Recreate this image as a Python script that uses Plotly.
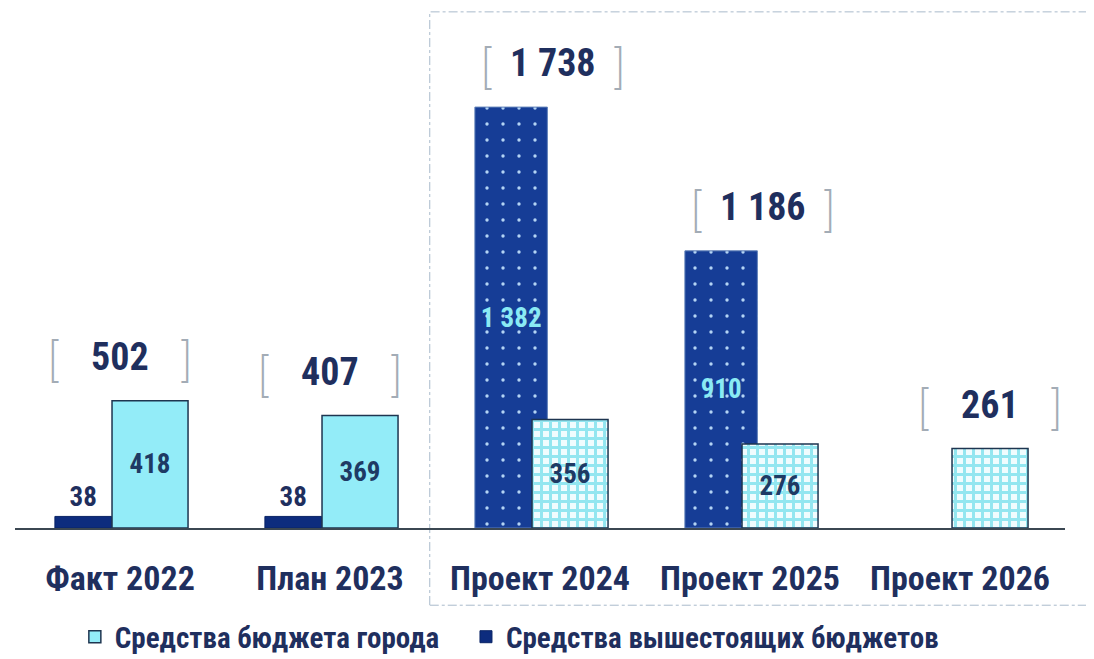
import plotly.graph_objects as go

# ---- data ----
categories = ["Факт 2022", "План 2023", "Проект 2024", "Проект 2025", "Проект 2026"]
city_budget = [418, 369, 356, 276, 261]          # Средства бюджета города
higher_budgets = [38, 38, 1382, 910, None]       # Средства вышестоящих бюджетов
totals = [502, 407, 1738, 1186, 261]
is_project = [False, False, True, True, True]

series_names = ["Средства бюджета города", "Средства вышестоящих бюджетов"]

# ---- styles ----
FONT = "Roboto Condensed, Liberation Sans Narrow, Roboto, sans-serif"
BRACKET_FONT = "Inter, Lato, DejaVu Sans, sans-serif"
NAVY_TEXT = "#1F2F5E"
DARK = "#0D2C7E"
DARK_PAT = "#163D96"
DARK_DOT = "#B4D4F4"
LIGHT = "#93ECF8"
LIGHT_PAT_BG = "#F0FCFE"
LIGHT_PAT_FG = "#93E6F0"
LIGHT_TEXT = "#1E3A64"


def fmt(v):
    return "" if v is None else f"{v:,}".replace(",", " ")


n = len(categories)
xs = list(range(n))

# bar geometry (in category units)
light_width, light_offset = 0.362, -0.038
dark_offset = -0.31


def dark_width(p):
    return 0.345 if p else 0.27


fig = go.Figure()

# dark series: solid (fact/plan) and dotted (projects)
for proj in (False, True):
    idx = [i for i in range(n) if is_project[i] == proj and higher_budgets[i] is not None]
    vals = [higher_budgets[i] for i in idx]
    tpos = ["inside" if v > 200 else "outside" for v in vals]
    tcol = ["#8AEAF4" if tp == "inside" else NAVY_TEXT for tp in tpos]
    marker = dict(color=DARK_PAT if proj else DARK,
                  line=dict(color="#5D7FB8" if proj else "#0A2466", width=1))
    if proj:
        marker["pattern"] = dict(shape=".", fgcolor=DARK_DOT, bgcolor=DARK_PAT,
                                 size=16, solidity=0.035, fillmode="replace")
    fig.add_trace(go.Bar(
        name=series_names[1], legend="legend2", showlegend=not proj,
        x=idx, y=vals,
        width=[dark_width(proj)] * len(idx), offset=dark_offset,
        marker=marker,
        text=[fmt(v) for v in vals], textposition=tpos,
        insidetextanchor="middle", textangle=0,
        textfont=dict(family=FONT, size=27, color=tcol, weight="bold"),
        constraintext="none", cliponaxis=False, hoverinfo="skip",
    ))

# light series: solid (fact/plan) and checkered (projects)
for proj in (False, True):
    idx = [i for i in range(n) if is_project[i] == proj]
    vals = [city_budget[i] for i in idx]
    marker = dict(color=LIGHT, line=dict(color="#1E3550", width=1.5))
    if proj:
        marker["pattern"] = dict(shape="+", fgcolor=LIGHT_PAT_FG, bgcolor=LIGHT_PAT_BG,
                                 size=9, solidity=0.55, fillmode="replace")
    fig.add_trace(go.Bar(
        name=series_names[0], legend="legend", showlegend=not proj,
        x=idx, y=vals,
        width=light_width, offset=light_offset,
        marker=marker,
        text=["" if higher_budgets[i] is None else fmt(city_budget[i]) for i in idx],
        textposition="inside", insidetextanchor="middle", textangle=0,
        textfont=dict(family=FONT, size=27, color=LIGHT_TEXT, weight="bold"),
        constraintext="none", cliponaxis=False, hoverinfo="skip",
    ))

# total labels framed by brackets
annotations = []
for i, t in enumerate(totals):
    top = max(v for v in (city_budget[i], higher_budgets[i]) if v is not None)
    if higher_budgets[i] is None:
        xc = i + light_offset + light_width / 2
    else:
        xc = i + (0.06 if is_project[i] else 0.0)
    annotations.append(dict(
        x=xc, y=top, xref="x", yref="y", text=fmt(t),
        showarrow=False, yanchor="middle", yshift=44,
        font=dict(family=FONT, size=38, color=NAVY_TEXT, weight="bold"),
    ))
    for sym, dx in (("[", -66), ("]", 66)):
        annotations.append(dict(
            x=xc, y=top, xref="x", yref="y", text=sym,
            showarrow=False, yanchor="middle", yshift=42, xshift=dx,
            font=dict(family=BRACKET_FONT, size=48, color="#A3ACB6", weight=200),
        ))

legend_style = dict(
    orientation="h", xanchor="left",
    yref="container", y=0.034, yanchor="middle",
    font=dict(family=FONT, size=29, color=NAVY_TEXT, weight="bold"),
    itemclick=False, itemdoubleclick=False,
)

# the page has an 8px body margin: figure is sized/placed to compensate
fig.update_layout(
    width=1086, height=651,
    margin=dict(l=7, r=29, t=12, b=131, autoexpand=False),
    paper_bgcolor="white", plot_bgcolor="white",
    barmode="overlay",
    showlegend=True,
    legend=dict(x=0.057, **legend_style),
    legend2=dict(x=0.4295, **legend_style),
    annotations=annotations,
    shapes=[dict(
        type="rect", xref="paper", yref="paper",
        x0=0.395, x1=1.06, y0=-0.152, y1=1.016,
        line=dict(color="#A9BACB", width=1, dash="dashdot"),
        fillcolor="rgba(0,0,0,0)", layer="below",
    )],
)

fig.update_xaxes(
    type="linear",
    tickvals=xs, ticktext=categories, range=[-0.5, n - 0.5],
    showline=True, linecolor="#3B4752", linewidth=2,
    showgrid=False, zeroline=False, ticks="",
    tickfont=dict(family=FONT, size=34, color=NAVY_TEXT, weight="bold"),
    ticklabelstandoff=19, automargin=False,
)
fig.update_yaxes(range=[0, 1668], visible=False, showgrid=False, zeroline=False)

fig.write_html("out.html")
